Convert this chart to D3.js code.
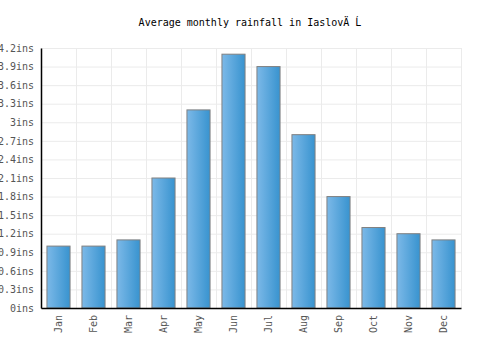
<!DOCTYPE html>
<html lang="en">
<head>
  <meta charset="UTF-8">
  <title>Average monthly rainfall</title>
  <script src="https://d3js.org/d3.v7.min.js"></script>
  <style>
    body { margin: 0; background: #fff; }
    text { font-family: "DejaVu Sans Mono", monospace; }
    .gridlines line { stroke: #ebebeb; }
    .gridlines .domain { stroke: none; }
    .axis .domain { stroke: #000; stroke-width: 1.5; }
    .axis line { stroke: none; }
    .axis text { fill: #555; font-size: 10px; }
  </style>
</head>
<body>
  <svg class="chart" width="500" height="350"></svg>
  <script>
    const months = ['Jan', 'Feb', 'Mar', 'Apr', 'May', 'Jun', 'Jul', 'Aug', 'Sep', 'Oct', 'Nov', 'Dec'];
    const rainfall = [1.0, 1.0, 1.1, 2.1, 3.2, 4.1, 3.9, 2.8, 1.8, 1.3, 1.2, 1.1];
    const yTicks = [0, 0.3, 0.6, 0.9, 1.2, 1.5, 1.8, 2.1, 2.4, 2.7, 3, 3.3, 3.6, 3.9, 4.2];

    const svg = d3.select('svg.chart');
    const margins = { top: 48, right: 39, bottom: 42, left: 41 };
    const chartWidth = 500 - margins.left - margins.right;
    const chartHeight = 350 - margins.top - margins.bottom;

    // gradient for the bars
    const grad = svg.append('defs').append('linearGradient')
      .attr('id', 'barGrad').attr('x1', '0%').attr('x2', '100%');
    grad.append('stop').attr('offset', '0%').attr('stop-color', '#7cb9e8');
    grad.append('stop').attr('offset', '100%').attr('stop-color', '#3893cf');

    svg.append('text')
      .attr('x', 250).attr('y', 26)
      .attr('text-anchor', 'middle')
      .style('font-size', '10px')
      .attr('fill', '#000')
      .text('Average monthly rainfall in IaslovÄ Ĺ');

    const chartArea = svg.append('g')
      .attr('transform', `translate(${margins.left},${margins.top})`);

    const x = d3.scaleBand().domain(months).range([0, chartWidth]).paddingInner(0.34).paddingOuter(0.17);
    const xEdges = d3.scaleLinear().domain([0, months.length]).range([0, chartWidth]);
    const y = d3.scaleLinear().domain([0, 4.2]).range([chartHeight, 0]);

    // gridlines
    chartArea.append('g')
      .attr('class', 'gridlines')
      .call(d3.axisLeft(y).tickValues(yTicks).tickSize(-chartWidth).tickFormat(''));
    chartArea.append('g')
      .attr('class', 'gridlines')
      .attr('transform', `translate(0,${chartHeight})`)
      .call(d3.axisBottom(xEdges).tickValues(d3.range(1, months.length + 1)).tickSize(-chartHeight).tickFormat(''));

    // bars
    chartArea.selectAll('rect.bar')
      .data(rainfall)
      .join('rect')
      .attr('class', 'bar')
      .attr('x', (d, i) => x(months[i]))
      .attr('y', d => y(d))
      .attr('width', x.bandwidth())
      .attr('height', d => chartHeight - y(d))
      .attr('fill', 'url(#barGrad)')
      .attr('stroke', '#808080')
      .attr('stroke-width', 1);

    // axes
    const leftAxis = d3.axisLeft(y).tickValues(yTicks).tickSize(0).tickPadding(7)
      .tickFormat(d => d3.format('~g')(d) + 'ins');
    chartArea.append('g').attr('class', 'axis').call(leftAxis);

    const bottomAxis = d3.axisBottom(x).tickSize(0);
    const xg = chartArea.append('g').attr('class', 'axis')
      .attr('transform', `translate(0,${chartHeight})`)
      .call(bottomAxis);
    xg.selectAll('text')
      .attr('transform', 'rotate(-90)')
      .attr('text-anchor', 'end')
      .attr('x', -7)
      .attr('y', 0)
      .attr('dy', '0.35em');
  </script>
</body>
</html>
